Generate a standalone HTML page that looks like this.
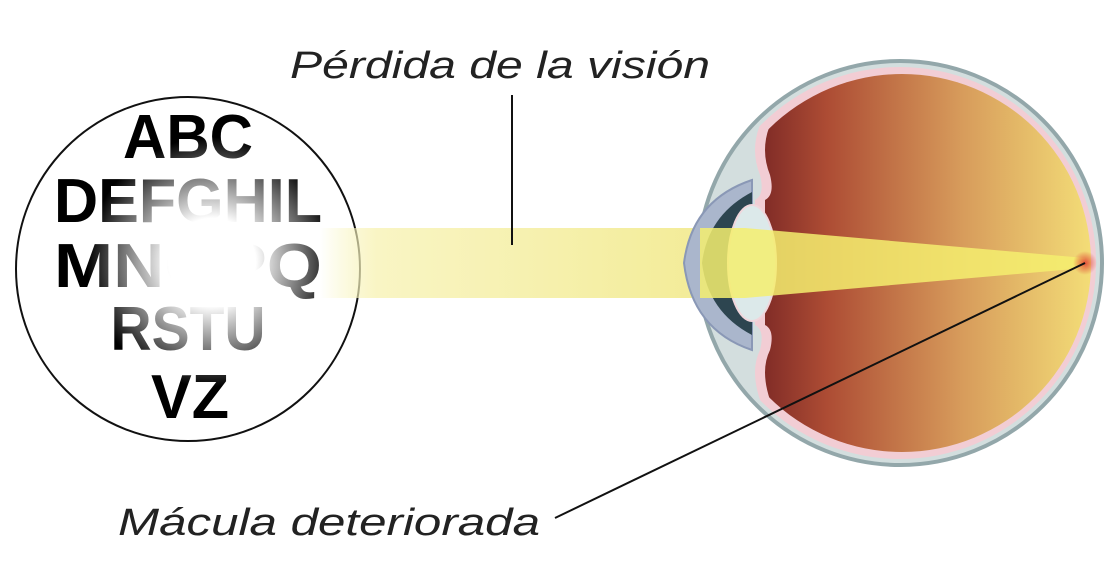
<!DOCTYPE html>
<html><head><style>body{margin:0;background:#fff}svg{display:block}</style></head><body>
<svg width="1112" height="580" viewBox="0 0 1112 580" xmlns="http://www.w3.org/2000/svg">
<defs>
<radialGradient id="blur" gradientUnits="userSpaceOnUse" cx="212" cy="262" r="125">
<stop offset="0" stop-color="#fff"/><stop offset="0.35" stop-color="#fff"/><stop offset="0.75" stop-color="#666"/><stop offset="1" stop-color="#000"/></radialGradient>
<linearGradient id="beam" x1="320" y1="0" x2="700" y2="0" gradientUnits="userSpaceOnUse">
<stop offset="0" stop-color="#f6f2b0" stop-opacity="0"/><stop offset="0.15" stop-color="#f9f5c4"/><stop offset="1" stop-color="#f3ec98"/></linearGradient>
<linearGradient id="inner" x1="760" y1="0" x2="1095" y2="0" gradientUnits="userSpaceOnUse">
<stop offset="0" stop-color="#7e2a26"/><stop offset="0.2" stop-color="#ad4c34"/><stop offset="0.6" stop-color="#d79b5b"/><stop offset="1" stop-color="#f4df78"/></linearGradient>
<radialGradient id="mac" cx="0.5" cy="0.5" r="0.5"><stop offset="0" stop-color="#e2503a"/><stop offset="1" stop-color="#e2503a" stop-opacity="0"/></radialGradient>
<clipPath id="ic"><path d="M770 0 L1200 0 L1200 580 L770 580 L770 400 Q760 370 770 350 Q775 330 765 325 L765 200 Q775 195 770 175 Q760 150 770 125 Z"/></clipPath>
<clipPath id="ic2"><path d="M760 0 L1200 0 L1200 580 L760 580 L760 400 Q750 370 760 350 Q765 330 755 325 L755 200 Q765 195 760 175 Q750 150 760 125 Z"/></clipPath>
</defs>
<circle cx="188" cy="269" r="172" fill="#fff" stroke="#111" stroke-width="2"/>
<g font-family="Liberation Sans, sans-serif" font-weight="bold" font-size="62" fill="url(#blur)" text-anchor="middle">
<text x="188" y="158" textLength="130" lengthAdjust="spacingAndGlyphs">ABC</text>
<text x="188" y="222" textLength="268" lengthAdjust="spacingAndGlyphs">DEFGHIL</text>
<text x="188" y="287" textLength="268" lengthAdjust="spacingAndGlyphs">MNOPQ</text>
<text x="188" y="350" textLength="155" lengthAdjust="spacingAndGlyphs">RSTU</text>
<text x="190" y="418" textLength="78" lengthAdjust="spacingAndGlyphs">VZ</text>
</g>
<rect x="320" y="228" width="380" height="70" fill="url(#beam)"/>
<!-- eye -->
<circle cx="900" cy="263" r="202" fill="#d3dede" stroke="#93a7aa" stroke-width="4"/>
<path d="M752 180 Q692 200 684 263 Q692 330 752 350 Z" fill="#aab6cc" stroke="#8a98b6" stroke-width="2"/>
<path d="M752 192 Q708 215 702 263 Q708 312 752 335 Z" fill="#2d4550"/>
<circle cx="900" cy="263" r="196" fill="#f2cdd4" clip-path="url(#ic2)"/>
<circle cx="902" cy="263" r="189" fill="url(#inner)" clip-path="url(#ic)"/>
<ellipse cx="752" cy="263" rx="24" ry="58" fill="#dce9ea" stroke="#f0d6dc" stroke-width="2"/>
<path d="M700 228 L745 228 L1085 258 L1085 268 L745 298 L700 298 Z" fill="#f5ee6e" opacity="0.85"/>
<circle cx="1085" cy="263" r="12" fill="url(#mac)"/>
<!-- labels -->
<g font-family="Liberation Sans, sans-serif" font-style="italic" font-size="38" fill="#222">
<text x="290" y="78" textLength="420" lengthAdjust="spacingAndGlyphs">Pérdida de la visión</text>
<text x="118" y="535" textLength="422" lengthAdjust="spacingAndGlyphs">Mácula deteriorada</text>
</g>
<line x1="512" y1="95" x2="512" y2="245" stroke="#111" stroke-width="2"/>
<line x1="555" y1="518" x2="1085" y2="263" stroke="#111" stroke-width="2"/>
</svg>
</body></html>
